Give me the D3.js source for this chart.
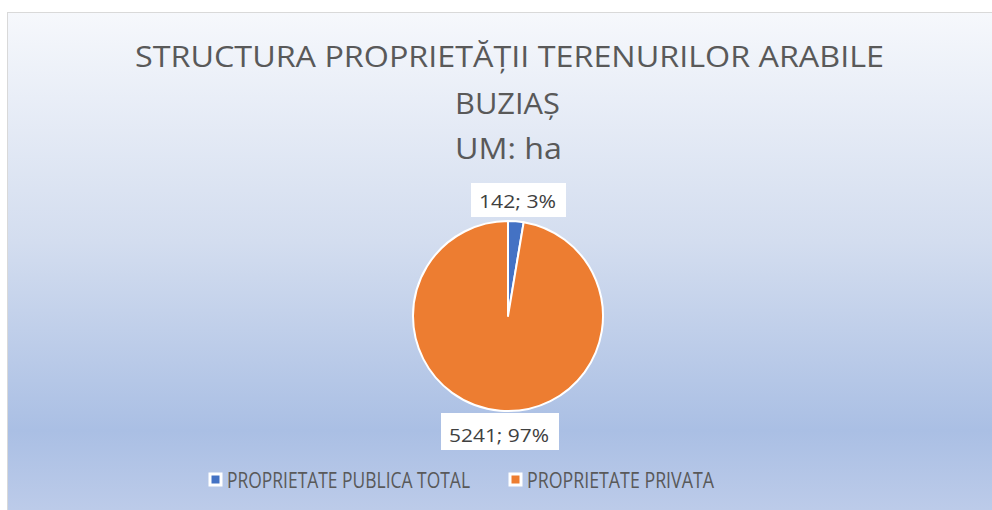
<!DOCTYPE html>
<html>
<head>
<meta charset="utf-8">
<script src="https://cdn.jsdelivr.net/npm/d3@7"></script>
<style>
  html, body { margin: 0; padding: 0; background: #ffffff; }
  svg { display: block; }
  text { font-family: "Open Sans", "Noto Sans", sans-serif; }
</style>
</head>
<body>
<div id="chart"></div>
<script>
// chart data
const categories = ['PROPRIETATE PUBLICA TOTAL', 'PROPRIETATE PRIVATA'];
const values = [142, 5241];
const colors = ['#4472c4', '#ed7d31'];
const titleLines = ['STRUCTURA PROPRIETĂȚII TERENURILOR ARABILE', 'BUZIAȘ', 'UM: ha'];

const width = 992, height = 510;
const svg = d3.select('#chart').append('svg')
  .attr('width', width)
  .attr('height', height);

// background gradient
const defs = svg.append('defs');
const grad = defs.append('linearGradient')
  .attr('id', 'bg')
  .attr('x1', 0).attr('y1', 0).attr('x2', 0).attr('y2', 1);
grad.append('stop').attr('offset', '0').attr('stop-color', '#f6f8fc');
grad.append('stop').attr('offset', '0.45').attr('stop-color', '#d3ddef');
grad.append('stop').attr('offset', '0.82').attr('stop-color', '#aabfe4');
grad.append('stop').attr('offset', '1').attr('stop-color', '#bfcdea');

svg.append('rect')
  .attr('x', 7.5).attr('y', 12.5)
  .attr('width', width).attr('height', height)
  .attr('fill', 'url(#bg)')
  .attr('stroke', '#d9d9d9')
  .attr('stroke-width', 1);

// title
const title = svg.append('g').attr('class', 'title');
const titleX = [509.5, 507.5, 508.5];
const titleY = [67, 114, 159];
const titleW = [749, 105, 107];
titleLines.forEach((line, i) => {
  title.append('text')
    .attr('x', titleX[i])
    .attr('y', titleY[i])
    .attr('text-anchor', 'middle')
    .attr('font-size', '29px')
    .attr('fill', '#595959')
    .attr('textLength', titleW[i])
    .attr('lengthAdjust', 'spacingAndGlyphs')
    .text(line);
});

// pie
const total = d3.sum(values);
const data = categories.map((c, i) => ({ name: c, value: values[i], color: colors[i] }));
const cx = 508, cy = 316, r = 95;

const pie = d3.pie().sort(null).value(d => d.value);
const arc = d3.arc().innerRadius(0).outerRadius(r);
const arcs = pie(data);

const g = svg.append('g').attr('transform', 'translate(' + cx + ',' + cy + ')');
g.selectAll('path.slice')
  .data(arcs)
  .enter()
  .append('path')
  .attr('class', 'slice')
  .attr('d', arc)
  .attr('fill', d => d.data.color)
  .attr('stroke', '#ffffff')
  .attr('stroke-width', 2)
  .attr('stroke-linejoin', 'round');

// data labels with white boxes
const labelBox = [[471, 183, 95, 34], [441, 413, 118, 37]];
const labelText = [[517.5, 208, 77], [499, 442, 100]];
arcs.forEach((d, i) => {
  const pct = Math.round(d.data.value / total * 100);
  const lbl = svg.append('g');
  lbl.append('rect')
    .attr('x', labelBox[i][0])
    .attr('y', labelBox[i][1])
    .attr('width', labelBox[i][2])
    .attr('height', labelBox[i][3])
    .attr('fill', '#ffffff');
  lbl.append('text')
    .attr('x', labelText[i][0])
    .attr('y', labelText[i][1])
    .attr('text-anchor', 'middle')
    .attr('font-size', '19px')
    .attr('fill', '#404040')
    .attr('textLength', labelText[i][2])
    .attr('lengthAdjust', 'spacingAndGlyphs')
    .text(d.data.value + '; ' + pct + '%');
});

// legend
const legendX = [208, 508];
const legendW = [243, 187];
const legend = svg.append('g').attr('class', 'legend');
data.forEach((d, i) => {
  legend.append('rect')
    .attr('x', legendX[i] + 2)
    .attr('y', 474)
    .attr('width', 11)
    .attr('height', 11)
    .attr('fill', d.color)
    .attr('stroke', '#ffffff')
    .attr('stroke-width', 3);
  legend.append('text')
    .attr('x', legendX[i] + 19)
    .attr('y', 488)
    .attr('font-size', '21px')
    .attr('fill', '#595959')
    .attr('textLength', legendW[i])
    .attr('lengthAdjust', 'spacingAndGlyphs')
    .text(d.name);
});
</script>
</body>
</html>
